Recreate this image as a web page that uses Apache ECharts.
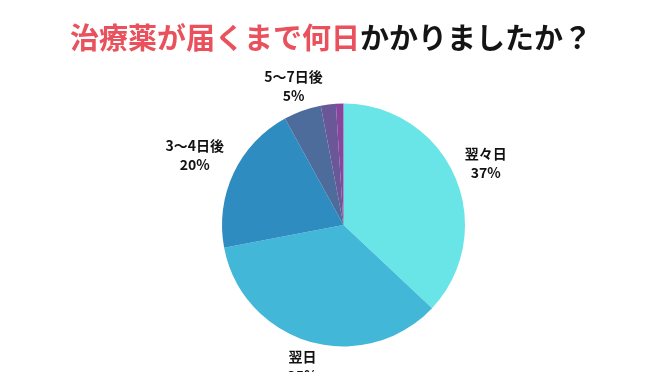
<!DOCTYPE html>
<html><head><meta charset="utf-8">
<script src="https://cdn.jsdelivr.net/npm/echarts@6/dist/echarts.min.js"></script>
<style>html,body{margin:0;padding:0;background:#fff}#c{width:662px;height:372px}</style>
</head><body><div id="c"></div>
<script>
const categories = ['翌々日', '翌日', '3〜4日後', '5〜7日後', '8日以上', 'その他'];
const values = [37, 35, 20, 5, 2, 1];
const labelVisible = [true, true, true, true, false, false];
const colors = ['#69e4e7', '#43b7d7', '#2e8cc0', '#4d6c9b', '#6a5797', '#87459b'];
const titleMain = '治療薬が届くまで何日';
const titleRest = 'かかりましたか？';

const CX = 343.5, CY = 225, R = 121.5;
const FONT = '"Noto Sans CJK JP", "Noto Sans", sans-serif';
const chart = echarts.init(document.getElementById('c'), null, { renderer: 'canvas' });

const data = categories.map((name, i) => ({
  name: name,
  value: values[i],
  itemStyle: { color: colors[i] },
  label: { show: labelVisible[i] }
}));

chart.setOption({
  backgroundColor: '#ffffff',
  animation: false,
  title: {
    text: '{r|' + titleMain + '}{k|' + titleRest + '}',
    left: 'center',
    top: 18,
    textStyle: {
      fontFamily: FONT,
      fontSize: 29,
      fontWeight: 'bold',
      rich: {
        r: { color: '#e9515c', fontSize: 29, fontWeight: 'bold', fontFamily: FONT },
        k: { color: '#141414', fontSize: 29, fontWeight: 'bold', fontFamily: FONT }
      }
    }
  },
  series: [{
    type: 'pie',
    center: [CX, CY],
    radius: R,
    startAngle: 90,
    clockwise: true,
    avoidLabelOverlap: false,
    data: data,
    label: {
      position: 'outside',
      formatter: '{n|{b}}\n{p|{c}%}',
      rich: {
        n: { fontFamily: FONT, fontSize: 14, fontWeight: 'bold', color: '#111', lineHeight: 19, align: 'center' },
        p: { fontFamily: FONT, fontSize: 14, fontWeight: 'bold', color: '#111', lineHeight: 19, align: 'center' }
      }
    },
    labelLine: { show: true, length: 10, length2: 0, lineStyle: { opacity: 0, width: 0 } },
    emphasis: { disabled: true },
    labelLayout: function (p) {
      const pts = p.labelLinePoints;
      if (!pts || !pts.length) return {};
      let vx = pts[0][0] - CX, vy = pts[0][1] - CY;
      const L = Math.hypot(vx, vy) || 1;
      vx /= L; vy /= L;
      const w = p.labelRect.width, h = p.labelRect.height - 4;
      const ex = Math.abs(vx) > 1e-6 ? (w / 2) / Math.abs(vx) : Infinity;
      const ey = Math.abs(vy) > 1e-6 ? (h / 2) / Math.abs(vy) : Infinity;
      const d = R + 10.5 + Math.min(ex, ey);
      return { x: CX + vx * d, y: CY + vy * d, align: 'center', verticalAlign: 'middle' };
    }
  }]
});
</script>
</body></html>
